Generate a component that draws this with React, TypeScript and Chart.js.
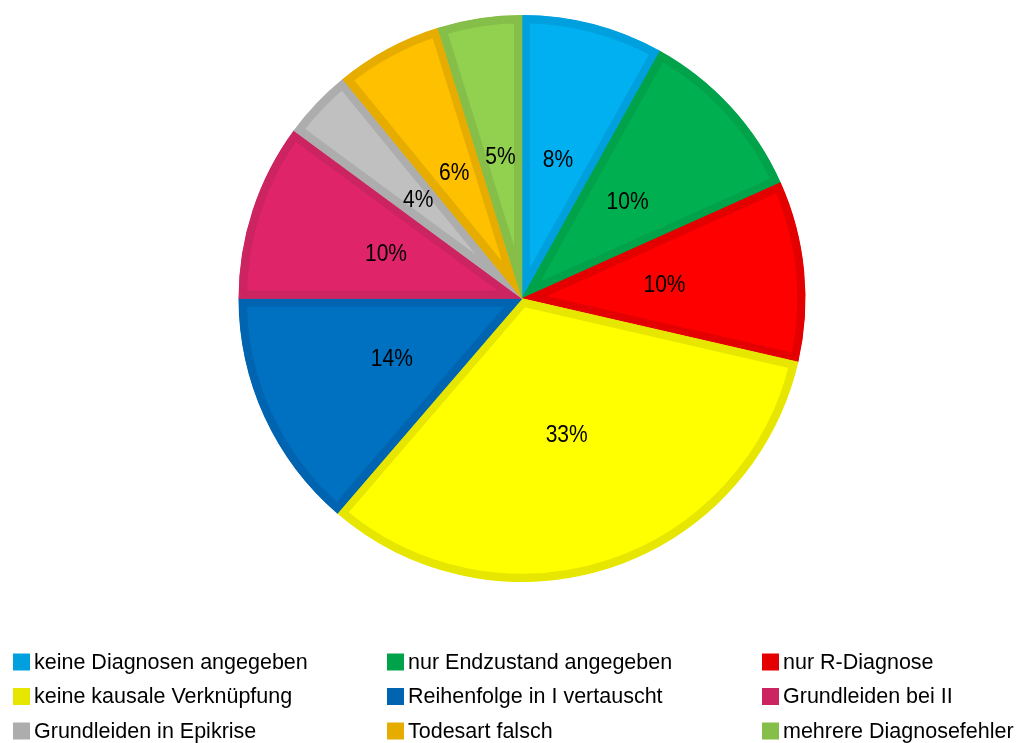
import React, { useEffect, useRef } from "react";
import { Chart, registerables } from "chart.js";

Chart.register(...registerables);

const categories = [
  "keine Diagnosen angegeben",
  "nur Endzustand angegeben",
  "nur R-Diagnose",
  "keine kausale Verknüpfung",
  "Reihenfolge in I vertauscht",
  "Grundleiden bei II",
  "Grundleiden in Epikrise",
  "Todesart falsch",
  "mehrere Diagnosefehler",
];
const values = [8.1, 10.2, 10.3, 32.7, 13.7, 10.1, 4.0, 6.1, 4.8];
const fillColors = [
  "#00B0F0",
  "#00B050",
  "#FF0000",
  "#FFFF00",
  "#0070C0",
  "#E0246A",
  "#C0C0C0",
  "#FFC000",
  "#92D050",
];
const borderColors = [
  "#00A0DE",
  "#00A24A",
  "#E40000",
  "#E6E600",
  "#0064B0",
  "#CC2460",
  "#ADADAD",
  "#E6AD00",
  "#86BE4A",
];
// legend order (3 columns x 3 rows), indices into categories
const legendOrder = [0, 1, 2, 3, 4, 5, 6, 7, 8];

const FONT = '"Liberation Sans", Arial, sans-serif';

const labelPlugin = {
  id: "pctLabels",
  afterDatasetsDraw(chart: any) {
    const ctx = chart.ctx;
    const meta = chart.getDatasetMeta(0);
    const data = chart.data.datasets[0].data as number[];
    const total = data.reduce((a, b) => a + b, 0);
    ctx.save();
    ctx.font = `21px ${FONT}`;
    ctx.fillStyle = "#000";
    ctx.textAlign = "center";
    ctx.textBaseline = "middle";
    meta.data.forEach((arc: any, i: number) => {
      const p = arc.getProps(["x", "y", "startAngle", "endAngle", "outerRadius"], true);
      const mid = (p.startAngle + p.endAngle) / 2;
      const r = p.outerRadius * 0.505;
      const x = p.x + Math.cos(mid) * r;
      const y = p.y + Math.sin(mid) * r;
      ctx.save();
      ctx.translate(x, y + 1);
      ctx.scale(1, 1.12);
      ctx.fillText(Math.round((data[i] / total) * 100) + "%", 0, 0);
      ctx.restore();
    });
    ctx.restore();
  },
};

const legendPlugin = {
  id: "gridLegend",
  afterDraw(chart: any) {
    const ctx = chart.ctx;
    const colX = [13, 387, 762];
    const rowY = [662, 696.5, 731];
    const sq = 17;
    ctx.save();
    ctx.font = `21.5px ${FONT}`;
    ctx.textBaseline = "middle";
    ctx.textAlign = "left";
    legendOrder.forEach((idx, k) => {
      const col = k % 3;
      const row = Math.floor(k / 3);
      const x = colX[col];
      const y = rowY[row];
      ctx.fillStyle = borderColors[idx];
      ctx.fillRect(x, y - sq / 2, sq, sq);
      ctx.fillStyle = "#000";
      ctx.fillText(chart.data.labels[idx], x + 21, y + 1);
    });
    ctx.restore();
  },
};

export default function App() {
  const ref = useRef<HTMLCanvasElement | null>(null);
  useEffect(() => {
    if (!ref.current) return;
    const chart = new Chart(ref.current, {
      type: "pie",
      data: {
        labels: categories,
        datasets: [
          {
            data: values,
            backgroundColor: fillColors,
            borderColor: borderColors,
            borderWidth: 8,
            hoverBorderWidth: 8,
            borderAlign: "inner",
            offset: 0,
            hoverOffset: 0,
          } as any,
        ],
      },
      options: {
        responsive: false,
        animation: false,
        rotation: 0,
        layout: { padding: { left: 23, right: 0, top: 15, bottom: 161 } },
        plugins: {
          legend: { display: false },
          tooltip: { enabled: false },
        },
        events: [],
      },
      plugins: [labelPlugin, legendPlugin],
    });
    return () => chart.destroy();
  }, []);
  return (
    <div style={{ position: "fixed", left: 0, top: 0, width: 1021, height: 743, background: "#fff" }}>
      <canvas ref={ref} width={1021} height={743} style={{ display: "block" }} />
    </div>
  );
}
